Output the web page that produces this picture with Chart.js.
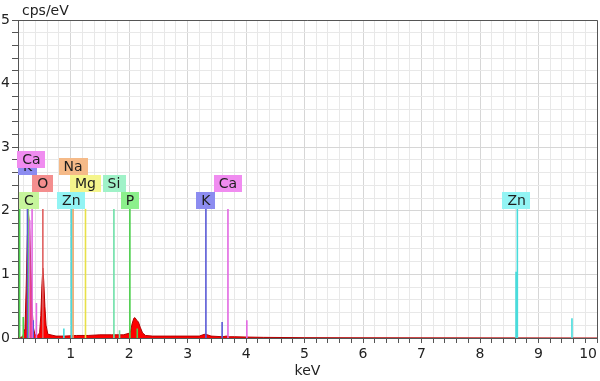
<!DOCTYPE html>
<html>
<head>
<meta charset="utf-8">
<script src="https://cdn.jsdelivr.net/npm/chart.js@4.4.1/dist/chart.umd.min.js"></script>
<style>
  html, body { margin: 0; padding: 0; background: #fff; }
</style>
</head>
<body>
<canvas id="eds" width="600" height="381"></canvas>
<script>
// spectrum (keV, cps/eV)
const specKeV = [0.10, 0.18, 0.22, 0.24, 0.26, 0.28, 0.30, 0.32, 0.34, 0.36, 0.39, 0.43, 0.47, 0.49, 0.51, 0.525, 0.54, 0.56, 0.58, 0.61,
  0.75, 0.9, 1.1, 1.3, 1.5, 1.7, 1.9, 2.02, 2.05, 2.08, 2.10, 2.13, 2.16, 2.19, 2.23, 2.28, 2.4, 2.7, 3.0, 3.2,
  3.26, 3.30, 3.34, 3.40, 3.6, 3.66, 3.72, 3.8, 4.0, 4.3, 5.0, 6.0, 10.0];
const specCps = [0, 0.02, 0.15, 0.80, 1.60, 1.95, 1.70, 1.10, 0.50, 0.18, 0.05, 0.04, 0.08, 0.35, 0.85, 1.10, 0.90, 0.50, 0.20, 0.06,
  0.03, 0.03, 0.04, 0.04, 0.05, 0.05, 0.05, 0.08, 0.22, 0.31, 0.32, 0.28, 0.25, 0.17, 0.08, 0.04, 0.03, 0.03, 0.03, 0.03,
  0.05, 0.06, 0.05, 0.03, 0.02, 0.03, 0.02, 0.02, 0.015, 0.01, 0.005, 0.003, 0];

// element marker lines
const lineElement = ['P', 'P', 'K', 'C', 'Ca', 'Ca', 'K', 'Ca', 'O', 'Zn', 'Na', 'Zn', 'Mg', 'Si', 'Si', 'P', 'P', 'K', 'K', 'Ca', 'Ca', 'Zn', 'Zn', 'Zn'];
const lineEnergy = [0.128, 0.19, 0.262, 0.277, 0.302, 0.341, 0.36, 0.415, 0.525, 0.884, 1.041, 1.012, 1.254, 1.74, 1.836, 2.013, 2.139, 3.313, 3.59, 3.69, 4.013, 8.616, 8.638, 9.572];
const lineHeight = [2.03, 0.33, 2.03, 2.03, 1.85, 2.03, 0.28, 0.55, 2.03, 0.15, 2.03, 2.03, 2.03, 2.03, 0.12, 2.03, 0.15, 2.03, 0.25, 2.03, 0.28, 1.04, 2.03, 0.31];

// tags
const tagText = ['C', 'K', 'Ca', 'O', 'Na', 'Zn', 'Mg', 'Si', 'P', 'K', 'Ca', 'Zn'];
const tagEnergy = [0.285, 0.262, 0.33, 0.525, 1.041, 1.012, 1.254, 1.74, 2.013, 3.313, 3.69, 8.627];

// axis labels
const xTickLabels = ['1', '2', '3', '4', '5', '6', '7', '8', '9', '10'];
const yTickLabels = ['0', '1', '2', '3', '4', '5'];

// styles
const lineColor = {
  C: '#8ee05a', O: '#e06060', Na: '#f0a060', Mg: '#e8e048', Si: '#6ee0a8',
  P: '#4ccf4c', K: '#5a5ad6', Ca: '#e268e2', Zn: '#48dcdc'
};
const tagColor = {
  C: '#c6f59c', O: '#f48e8e', Na: '#f5ba88', Mg: '#f5f58c', Si: '#a0f2c8',
  P: '#8cf08c', K: '#8c8cf0', Ca: '#f08cf0', Zn: '#92f4f4'
};
const tagRow = [0, 2, 2.4, 1, 2, 0, 1, 1, 0, 0, 1, 0];
const drawOrder = { Zn: 1, Na: 6, C: 5, K: 3, Ca: 2, P: 4, O: 1, Mg: 1, Si: 1 };
const FONT = '"DejaVu Sans", Verdana, sans-serif';

const elements = ['C', 'O', 'Na', 'Mg', 'Si', 'P', 'K', 'Ca', 'Zn'];
const lineSets = elements.map((el) => {
  const pts = [];
  lineElement.forEach((e, i) => {
    if (e !== el) return;
    pts.push({ x: lineEnergy[i], y: 0 }, { x: lineEnergy[i], y: lineHeight[i] }, { x: lineEnergy[i], y: null });
  });
  return {
    type: 'line',
    label: el,
    data: pts,
    borderColor: lineColor[el],
    borderWidth: 1.6,
    pointRadius: 0,
    fill: false,
    spanGaps: false,
    order: drawOrder[el],
  };
});

const spectrum = {
  type: 'line',
  label: 'spectrum',
  data: specKeV.map((k, i) => ({ x: k, y: specCps[i] })),
  borderColor: '#b00000',
  backgroundColor: '#ff0000',
  borderWidth: 1,
  pointRadius: 0,
  fill: 'origin',
  order: 20,
};

function stepTicks(min, max) {
  const t = [];
  for (let i = Math.round(min * 5); i <= Math.round(max * 5); i++) t.push({ value: i / 5 });
  return t;
}
function isWhole(v) {
  return Math.abs(v - Math.round(v)) < 1e-6;
}

const tagPlugin = {
  id: 'tags',
  afterDatasetsDraw(chart) {
    const { ctx, chartArea, scales: { x, y } } = chart;
    ctx.save();
    // top / right frame
    ctx.strokeStyle = '#555';
    ctx.lineWidth = 1;
    ctx.beginPath();
    ctx.moveTo(chartArea.left, chartArea.top + 0.5);
    ctx.lineTo(chartArea.right + 0.5, chartArea.top + 0.5);
    ctx.lineTo(chartArea.right + 0.5, chartArea.bottom);
    ctx.stroke();

    const base = y.getPixelForValue(2.03);
    ctx.font = '14px ' + FONT;
    ctx.textAlign = 'center';
    ctx.textBaseline = 'middle';
    tagText.forEach((t, i) => {
      const cx = x.getPixelForValue(tagEnergy[i]);
      const w = ctx.measureText(t).width + 10;
      const bottom = base - tagRow[i] * 17;
      ctx.fillStyle = tagColor[t];
      ctx.fillRect(Math.round(cx - w / 2), Math.round(bottom - 17), Math.round(w), 17);
      ctx.fillStyle = '#1e1e1e';
      ctx.fillText(t, cx, bottom - 8);
    });

    // unit on top of y axis
    ctx.textAlign = 'left';
    ctx.textBaseline = 'alphabetic';
    ctx.fillStyle = '#222';
    ctx.fillText('cps/eV', 22, 15);
    ctx.restore();
  }
};

new Chart(document.getElementById('eds'), {
  data: { datasets: [...lineSets, spectrum] },
  options: {
    responsive: false,
    animation: false,
    layout: { padding: { top: 20, right: 0, left: 0, bottom: 0 } },
    plugins: { legend: { display: false }, tooltip: { enabled: false } },
    scales: {
      x: {
        type: 'linear',
        min: 0.1,
        max: 10,
        afterBuildTicks: (s) => { s.ticks = stepTicks(0.2, 10); },
        afterFit: (s) => { s.height = 43; },
        ticks: {
          autoSkip: false,
          maxRotation: 0,
          align: 'inner',
          padding: 3,
          color: '#222',
          font: { family: FONT, size: 14 },
          callback: (v) => (isWhole(v) ? xTickLabels[Math.round(v) - 1] : ''),
        },
        grid: {
          color: (c) => (c.tick && isWhole(c.tick.value) ? '#d6d6d6' : '#e8e8e8'),
          tickColor: '#555',
          tickLength: 5,
        },
        border: { color: '#555', width: 1 },
        title: {
          display: true,
          text: 'keV',
          color: '#222',
          font: { family: FONT, size: 14 },
          padding: { top: 0, bottom: 1 },
        },
      },
      y: {
        type: 'linear',
        min: 0,
        max: 5,
        afterBuildTicks: (s) => { s.ticks = stepTicks(0, 5); },
        afterFit: (s) => { s.width = 18; },
        ticks: {
          autoSkip: false,
          padding: 2,
          color: '#222',
          font: { family: FONT, size: 14 },
          callback: (v) => (isWhole(v) ? yTickLabels[Math.round(v)] : ''),
        },
        grid: {
          color: (c) => (c.tick && isWhole(c.tick.value) ? '#d6d6d6' : '#e8e8e8'),
          tickColor: '#555',
          tickLength: 6,
        },
        border: { color: '#555', width: 1 },
      },
    },
  },
  plugins: [tagPlugin],
});
</script>
</body>
</html>
